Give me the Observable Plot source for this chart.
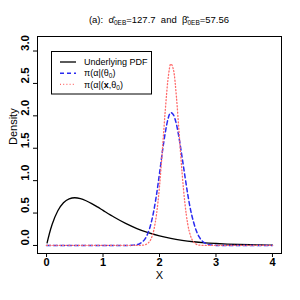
<!DOCTYPE html>
<html><head><meta charset="utf-8">
<script src="https://cdn.jsdelivr.net/npm/d3@7"></script>
<script src="https://cdn.jsdelivr.net/npm/@observablehq/plot@0.6"></script>
<style>body{margin:0;background:#fff;} #chart{width:300px;height:300px;}</style>
</head><body><div id="chart"></div>
<script>
// Underlying PDF
const pdfX = [0.01,0.05,0.1,0.2,0.3,0.4,0.5,0.6,0.7,0.8,0.9,1.0,1.2,1.4,1.6,1.8,2.0,2.2,2.4,2.6,2.8,3.0,3.2,3.4,3.6,3.8,4.0];
const pdfY = [0.039,0.181,0.327,0.536,0.659,0.719,0.736,0.723,0.690,0.646,0.595,0.541,0.435,0.340,0.261,0.197,0.147,0.108,0.079,0.057,0.041,0.030,0.021,0.015,0.011,0.008,0.005];
// pi(alpha|(theta0))
const priorX = [0,1.45,1.5,1.55,1.6,1.65,1.7,1.75,1.8,1.85,1.9,1.95,2.0,2.05,2.1,2.15,2.2,2.25,2.3,2.35,2.4,2.45,2.5,2.55,2.6,2.65,2.7,2.75,2.8,2.85,2.9,2.95,3.0,4.0];
const priorY = [0,0,0.002,0.005,0.012,0.027,0.056,0.11,0.20,0.34,0.54,0.80,1.11,1.44,1.73,1.95,2.05,2.01,1.87,1.64,1.36,1.07,0.79,0.55,0.37,0.23,0.135,0.075,0.04,0.02,0.009,0.004,0.001,0];
// pi(alpha|(x,theta0))
const postX = [0,1.6,1.65,1.7,1.75,1.8,1.85,1.9,1.95,2.0,2.05,2.1,2.15,2.2,2.25,2.3,2.35,2.4,2.45,2.5,2.55,2.6,2.65,2.7,2.75,2.8,4.0];
const postY = [0,0,0.001,0.004,0.013,0.038,0.10,0.24,0.50,0.91,1.46,2.06,2.56,2.80,2.70,2.29,1.70,1.12,0.65,0.33,0.147,0.058,0.02,0.006,0.002,0,0];
const xTicks = [0,1,2,3,4];
const yTicks = [0,0.5,1,1.5,2,2.5,3];
const legendLabels = ["Underlying PDF","π(α|(θ0)","π(α|(x,θ0)"];

const FONT = "'Liberation Sans', Arial, Helvetica, sans-serif";
const BLUE = "#2a2af0", RED = "#ff6a6a";
const tbl = (xs, ys) => xs.map((x,i)=>({x, y: ys[i]}));

const svg = Plot.plot({
  width: 300, height: 300,
  marginLeft: 37, marginRight: 19, marginTop: 36, marginBottom: 47,
  style: {fontFamily: FONT, background: "white", color: "black"},
  x: {domain: [-0.16, 4.16]},
  y: {domain: [-0.124, 3.224]},
  marks: [
    Plot.frame({stroke: "black", strokeWidth: 1}),
    Plot.axisX(xTicks, {tickSize: 4, tickPadding: 0.8, fontSize: 11, fontWeight: "bold", label: null}),
    Plot.axisY(yTicks, {tickSize: 4, tickFormat: () => "", label: null}),
    Plot.text(yTicks, {y: d => d, frameAnchor: "left", text: d => d3.format(".1f")(d), rotate: -90, dx: -12, lineAnchor: "middle", fontSize: 11.5, fontWeight: "bold"}),
    Plot.text(["X"], {frameAnchor: "bottom", text: d => d, dy: 21.5, lineAnchor: "middle", fontSize: 11}),
    Plot.text(["Density"], {frameAnchor: "left", text: d => d, rotate: -90, dx: -24, lineAnchor: "middle", fontSize: 11}),
    Plot.line(tbl(pdfX, pdfY), {x: "x", y: "y", stroke: "black", strokeWidth: 1.3, curve: "monotone-x"}),
    Plot.line(tbl(priorX, priorY), {x: "x", y: "y", stroke: BLUE, strokeWidth: 1.5, strokeDasharray: "4,3", curve: "monotone-x"}),
    Plot.line(tbl(postX, postY), {x: "x", y: "y", stroke: RED, strokeWidth: 1.3, strokeDasharray: "1,2.2", curve: "monotone-x"})
  ]
});
document.getElementById("chart").appendChild(svg);

const s = d3.select(svg);
// title
const t = s.append("text").attr("x", 159).attr("y", 23).attr("text-anchor", "middle")
  .style("font-family", FONT).style("font-size", "9.5px").attr("fill", "black");
t.append("tspan").text("(a):  α\u0302");
t.append("tspan").attr("font-size", "6.5px").attr("dy", 2).text("0EB");
t.append("tspan").attr("dy", -2).text("=127.7  and  β\u0302");
t.append("tspan").attr("font-size", "6.5px").attr("dy", 2).text("0EB");
t.append("tspan").attr("dy", -2).text("=57.56");

// legend
const lg = s.append("g").style("font-family", FONT).style("font-size", "9px").attr("text-anchor", "start");
lg.append("rect").attr("x", 51.5).attr("y", 51.5).attr("width", 100).attr("height", 42.5)
  .attr("fill", "white").attr("stroke", "black").attr("stroke-width", 1);
const rowsY = [62, 73.2, 84.4];
const styles = [
  {stroke: "black", w: 1.3, dash: null},
  {stroke: BLUE, w: 1.5, dash: "4,3"},
  {stroke: RED, w: 1.3, dash: "1,2.2"}
];
styles.forEach((st, i) => {
  lg.append("line").attr("x1", 60).attr("x2", 76).attr("y1", rowsY[i]).attr("y2", rowsY[i])
    .attr("stroke", st.stroke).attr("stroke-width", st.w).attr("stroke-dasharray", st.dash);
});
lg.append("text").attr("x", 84).attr("y", rowsY[0] + 3.2).attr("text-anchor", "start").text(legendLabels[0]);
const l2 = lg.append("text").attr("x", 84).attr("y", rowsY[1] + 3.2).attr("text-anchor", "start");
l2.append("tspan").text("π(α|(θ");
l2.append("tspan").attr("font-size", "6.5px").attr("dy", 2).text("0");
l2.append("tspan").attr("dy", -2).text(")");
const l3 = lg.append("text").attr("x", 84).attr("y", rowsY[2] + 3.2).attr("text-anchor", "start");
l3.append("tspan").text("π(α|(");
l3.append("tspan").attr("font-weight", "bold").text("x");
l3.append("tspan").text(",θ");
l3.append("tspan").attr("font-size", "6.5px").attr("dy", 2).text("0");
l3.append("tspan").attr("dy", -2).text(")");
</script>
</body></html>
